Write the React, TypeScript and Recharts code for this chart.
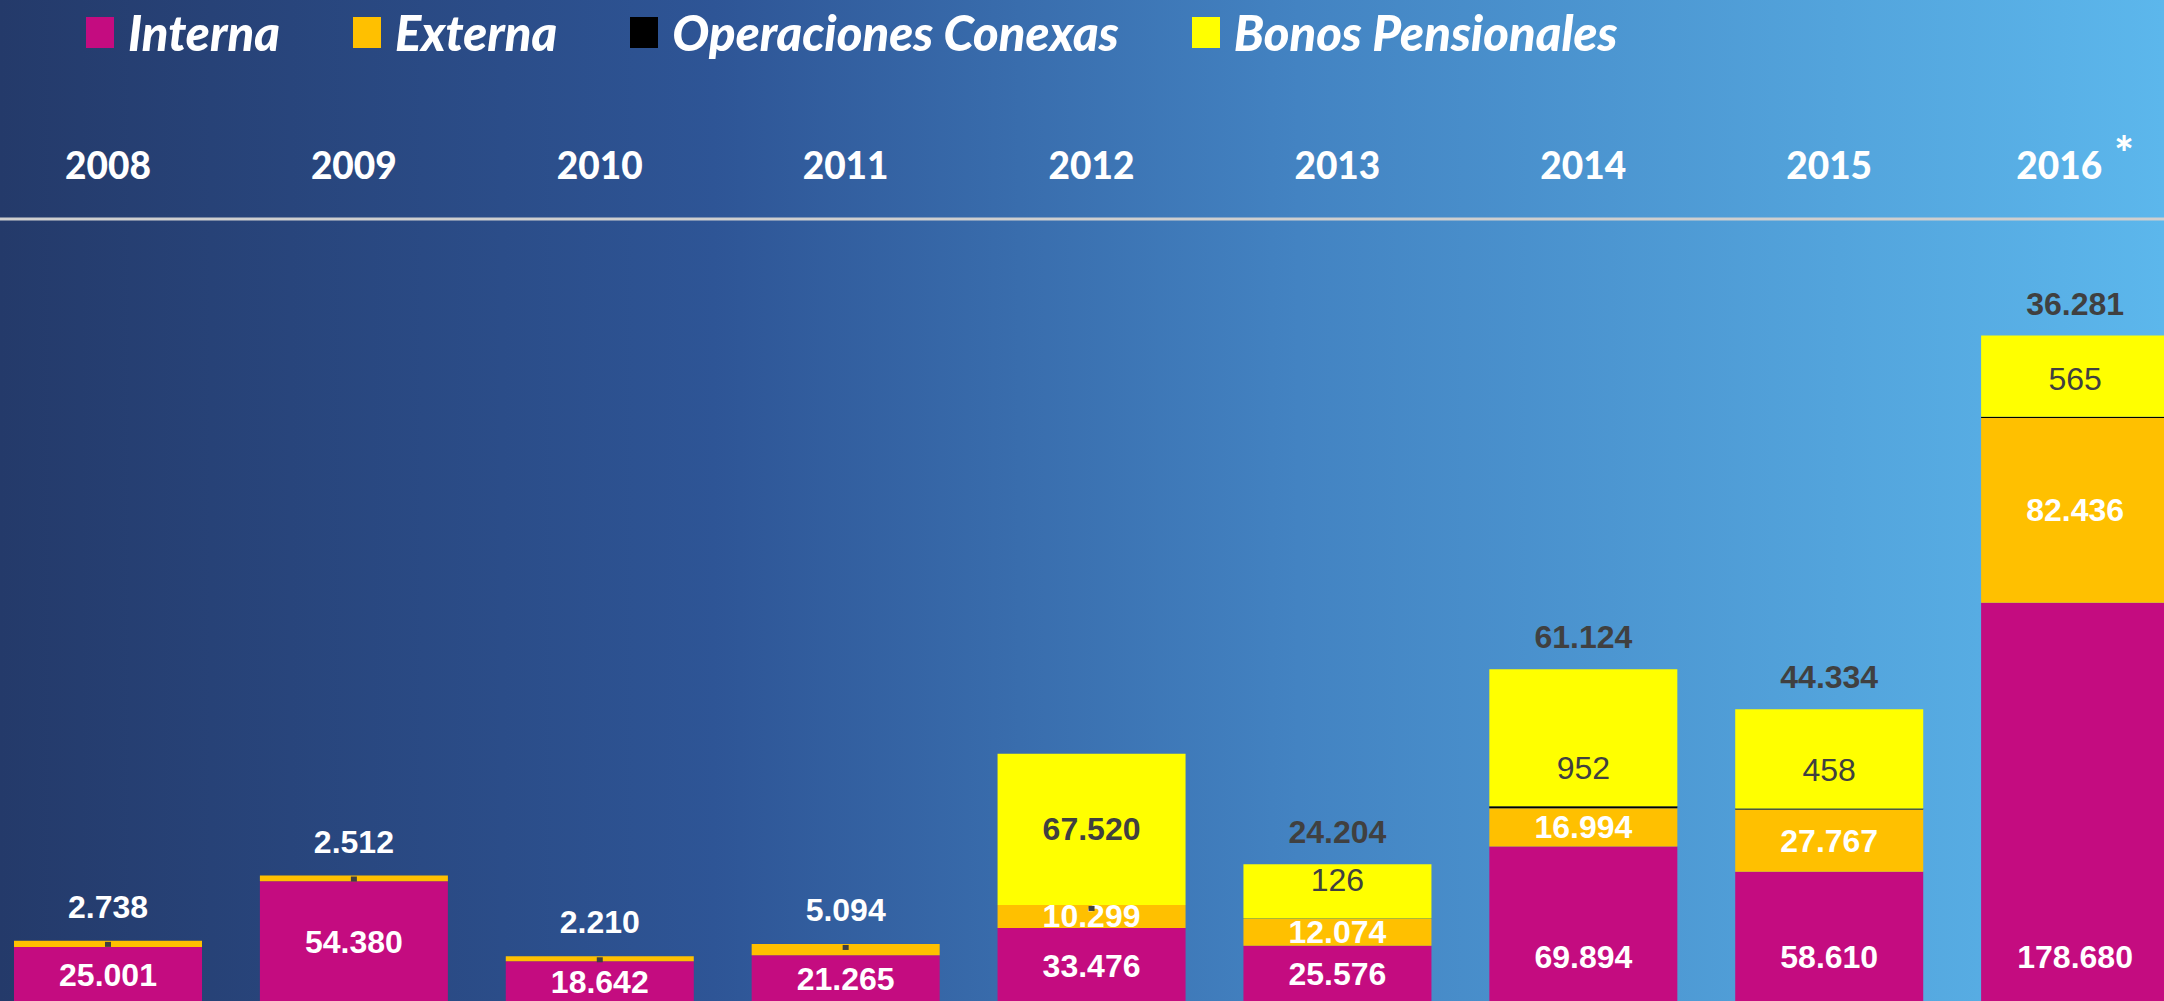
import React from 'react';
import { BarChart, Bar, XAxis, YAxis, LabelList } from 'recharts';

const years = ['2008', '2009', '2010', '2011', '2012', '2013', '2014', '2015', '2016*'];
const interna = [25001, 54380, 18642, 21265, 33476, 25576, 69894, 58610, 178680];
const externa = [2738, 2512, 2210, 5094, 10299, 12074, 16994, 27767, 82436];
const opConexas = [0, 0, 0, 0, 0, 126, 952, 458, 565];
const bonos = [0, 0, 0, 0, 67520, 24204, 61124, 44334, 36281];

const data = years.map((year, i) => ({
  year,
  interna: interna[i],
  externa: externa[i],
  opConexas: opConexas[i],
  bonos: bonos[i],
}));

const COLORS = {
  interna: '#C40C80',
  externa: '#FFC000',
  opConexas: '#000000',
  bonos: '#FFFF00',
};

const LEGEND = [
  { name: 'Interna', color: COLORS.interna },
  { name: 'Externa', color: COLORS.externa },
  { name: 'Operaciones Conexas', color: COLORS.opConexas },
  { name: 'Bonos Pensionales', color: COLORS.bonos },
];

const NUM_FONT = '"Liberation Sans", Arial, sans-serif';
const DARK = '#404040';

// 25001 -> "25.001"
const fmt = (v: number) => String(v).replace(/\B(?=(\d{3})+(?!\d))/g, '.');

const box = (p: any) => {
  const vb = p.viewBox || {};
  return {
    x: Number(p.x ?? vb.x),
    y: Number(p.y ?? vb.y),
    w: Number(p.width ?? vb.width),
    h: Number(p.height ?? vb.height),
    v: Number(p.value),
    i: p.index,
  };
};

const Num = ({ x, y, fill, bold = true, children }: any) => (
  <text
    x={x}
    y={y}
    textAnchor="middle"
    dominantBaseline="central"
    fill={fill}
    fontFamily={NUM_FONT}
    fontWeight={bold ? 'bold' : 'normal'}
    fontSize={32}
  >
    {children}
  </text>
);

const InternaLabel = (p: any) => {
  const { x, y, w, h, v } = box(p);
  const cy = h < 125 ? y + h / 2 : y + h - 46;
  return <Num x={x + w / 2} y={cy} fill="#fff">{fmt(v)}</Num>;
};

// small dark marker where operaciones conexas is empty
const ExternaLabel = (p: any) => {
  const { x, y, w, h, v, i } = box(p);
  const cy = v < 6000 ? y - 34 : y + h / 2;
  const emptyOp = i != null ? opConexas[i] === 0 : v < 11000;
  return (
    <g>
      <Num x={x + w / 2} y={cy} fill="#fff">{fmt(v)}</Num>
      {emptyOp && <rect x={x + w / 2 - 3} y={y + 1} width={6} height={5} fill={DARK} />}
    </g>
  );
};

const OpLabel = (p: any) => {
  const { x, y, w, v } = box(p);
  if (!v) return null;
  return <Num x={x + w / 2} y={y - 38} fill={DARK} bold={false}>{fmt(v)}</Num>;
};

const BonosLabel = (p: any) => {
  const { x, y, w, h, v } = box(p);
  if (!v) return null;
  const cy = v > 65000 ? y + h / 2 : y - 32;
  return <Num x={x + w / 2} y={cy} fill={DARK}>{fmt(v)}</Num>;
};

const YearTick = ({ x, y, payload }: any) => {
  const label = String(payload.value);
  const star = label.endsWith('*');
  return (
    <text
      x={x}
      y={y - 53}
      textAnchor="middle"
      dominantBaseline="central"
      fill="#fff"
      fontFamily="Lato, sans-serif"
      fontWeight={900}
      fontSize={37}
    >
      {star ? label.slice(0, -1) : label}
      {star && (
        <tspan dx={12} dy={-12} fontSize={46}>
          *
        </tspan>
      )}
    </text>
  );
};

const App = () => {
  return (
    <div
      style={{
        position: 'absolute',
        left: 0,
        top: 0,
        width: 2164,
        height: 1001,
        overflow: 'hidden',
        background:
          'linear-gradient(to right, #243a6a 0%, #2e5596 33%, #4383c2 60%, #53a4dc 85%, #5cb7ec 100%)',
      }}
    >
      <div
        style={{
          position: 'absolute',
          left: 86,
          top: 3,
          display: 'flex',
          alignItems: 'center',
          gap: 73,
          fontFamily: 'Lato, sans-serif',
          fontWeight: 900,
          fontStyle: 'italic',
          fontSize: 49,
          color: '#fff',
          whiteSpace: 'nowrap',
        }}
      >
        {LEGEND.map((item) => (
          <div key={item.name} style={{ display: 'flex', alignItems: 'center', gap: 14 }}>
            <span style={{ width: 28, height: 31, background: item.color, display: 'inline-block' }} />
            <span>{item.name}</span>
          </div>
        ))}
      </div>
      <div style={{ position: 'absolute', left: -15, top: 0 }}>
        <BarChart
          width={2213}
          height={1003}
          data={data}
          margin={{ top: 0, right: 0, bottom: 0, left: 0 }}
          barSize={188}
        >
          <XAxis
            dataKey="year"
            orientation="top"
            height={219}
            axisLine={{ stroke: '#cfcfcf', strokeWidth: 3 }}
            tickLine={false}
            tickSize={0}
            interval={0}
            tick={<YearTick />}
          />
          <YAxis hide domain={[0, 350000]} />
          <Bar dataKey="interna" stackId="a" fill={COLORS.interna} isAnimationActive={false}>
            <LabelList dataKey="interna" content={InternaLabel} />
          </Bar>
          <Bar dataKey="externa" stackId="a" fill={COLORS.externa} isAnimationActive={false}>
            <LabelList dataKey="externa" content={ExternaLabel} />
          </Bar>
          <Bar dataKey="opConexas" stackId="a" fill={COLORS.opConexas} isAnimationActive={false}>
            <LabelList dataKey="opConexas" content={OpLabel} />
          </Bar>
          <Bar dataKey="bonos" stackId="a" fill={COLORS.bonos} isAnimationActive={false}>
            <LabelList dataKey="bonos" content={BonosLabel} />
          </Bar>
        </BarChart>
      </div>
    </div>
  );
};

export default App;
